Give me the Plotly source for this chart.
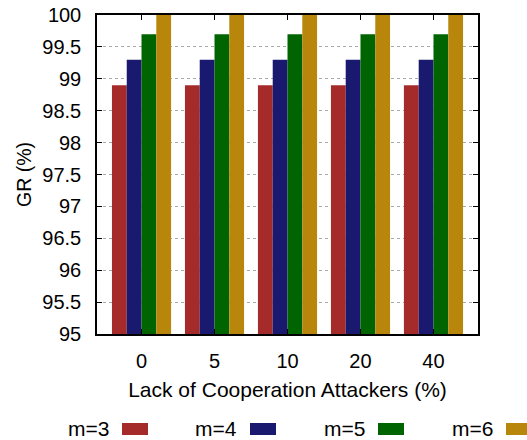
import plotly.graph_objects as go

# Lack-of-cooperation attacker ratio (%) and GR (%) per m
attackers = ["0", "5", "10", "20", "40"]
gr_m3 = [98.9, 98.9, 98.9, 98.9, 98.9]
gr_m4 = [99.3, 99.3, 99.3, 99.3, 99.3]
gr_m5 = [99.7, 99.7, 99.7, 99.7, 99.7]
gr_m6 = [100.0, 100.0, 100.0, 100.0, 100.0]
series_names = ["m=3", "m=4", "m=5", "m=6"]
series_colors = ["#A52A2A", "#191970", "#006400", "#B8860B"]
y_ticks = [95, 95.5, 96, 96.5, 97, 97.5, 98, 98.5, 99, 99.5, 100]

FONT = "Liberation Sans, Arial, sans-serif"
TICK_FS = 20
XTITLE_FS = 21
YTITLE_FS = 19.5
LEG_FS = 21

fig = go.Figure()
for name, vals, col in zip(series_names, [gr_m3, gr_m4, gr_m5, gr_m6], series_colors):
    fig.add_trace(go.Bar(x=attackers, y=vals, name=name, marker_color=col,
                         marker_line_width=0, showlegend=False))

# Legend drawn below the plot: label followed by a colour swatch
plot_l, plot_r, plot_t, plot_b = 97, 478, 15, 334
pw, ph = plot_r - plot_l, plot_b - plot_t
step = 128
for i, (name, col) in enumerate(zip(series_names, series_colors)):
    text_right = 111 + i * step
    box_l = text_right + 11
    fig.add_annotation(x=(text_right - plot_l) / pw, y=(plot_b - 429) / ph,
                       xref="paper", yref="paper", text=name, showarrow=False,
                       xanchor="right", yanchor="middle",
                       font=dict(family=FONT, size=LEG_FS, color="#000"))
    fig.add_shape(type="rect", xref="paper", yref="paper",
                  x0=(box_l - plot_l) / pw, x1=(box_l + 26 - plot_l) / pw,
                  y0=(plot_b - 423) / ph, y1=(plot_b - 435) / ph,
                  fillcolor=col, line_width=0)

tick_font = dict(family=FONT, size=TICK_FS, color="#000")

fig.update_layout(
    width=527, height=440,
    margin=dict(l=plot_l, r=527 - plot_r, t=plot_t, b=440 - plot_b),
    barmode="group", bargap=0.19, bargroupgap=0,
    plot_bgcolor="white", paper_bgcolor="white",
    font=dict(family=FONT, size=TICK_FS, color="#000"),
    showlegend=False,
)
fig.update_xaxes(
    type="category", range=[-0.61, 4.61], automargin=False,
    showline=True, linecolor="#000", linewidth=1.5, mirror="ticks",
    ticks="inside", ticklen=5, tickcolor="#000",
    showgrid=False, ticklabelstandoff=8,
    title=dict(text="Lack of Cooperation Attackers (%)", standoff=12,
               font=dict(family=FONT, size=XTITLE_FS, color="#000")),
    tickfont=tick_font,
)
fig.update_yaxes(
    range=[95, 100], tickvals=y_ticks, automargin=False,
    ticktext=[f"{v:g}" for v in y_ticks],
    showline=True, linecolor="#000", linewidth=1.5, mirror="ticks",
    ticks="inside", ticklen=5, tickcolor="#000",
    showgrid=True, gridcolor="#aaaaaa", griddash="dot", gridwidth=1,
    zeroline=False, ticklabelstandoff=10,
    title=dict(text="GR (%)", standoff=5,
               font=dict(family=FONT, size=YTITLE_FS, color="#000")),
    tickfont=tick_font,
)

fig.write_html("out.html")
